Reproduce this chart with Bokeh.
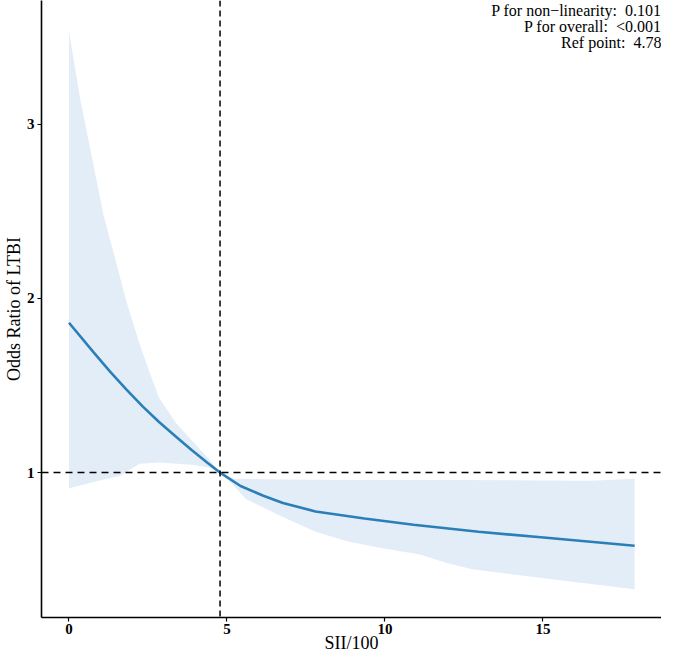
from bokeh.plotting import figure
from bokeh.models import Range1d, FixedTicker, Span
from bokeh.core.properties import value
from bokeh.embed import file_html
from bokeh.resources import INLINE

# ---- data ----
curve_x = [0, 0.78, 1.30, 1.82, 2.33, 2.85, 3.36, 3.88, 4.4, 4.78, 5.43, 6.15, 6.77,
           7.8, 9.35, 10.9, 12.96, 15.02, 17.9]
curve_or = [1.86, 1.69, 1.58, 1.476, 1.38, 1.29, 1.21, 1.13, 1.054, 1.0, 0.923, 0.867, 0.825,
            0.777, 0.736, 0.70, 0.66, 0.627, 0.58]

upper_x = [0, 0.37, 0.78, 1.09, 1.5, 1.82, 2.23, 2.54, 2.85, 3.36, 3.88, 4.4, 4.78,
           5.22, 6.77, 9.0, 12.0, 15.0, 16.5, 17.9]
upper_y = [3.53, 3.13, 2.76, 2.48, 2.20, 1.98, 1.74, 1.58, 1.43, 1.29, 1.185, 1.084, 1.0,
           0.965, 0.96, 0.958, 0.958, 0.955, 0.953, 0.965]

lower_x = [0, 1.09, 1.61, 2.23, 2.85, 3.88, 4.4, 4.78, 4.88, 5.6, 6.77, 7.8, 8.83, 9.87,
           11.1, 11.93, 12.76, 14.0, 16.06, 17.9]
lower_y = [0.91, 0.96, 0.98, 1.05, 1.058, 1.045, 1.03, 1.0, 0.99, 0.848, 0.745, 0.66, 0.605,
           0.567, 0.53, 0.483, 0.445, 0.417, 0.37, 0.33]

ref_point = 4.78
ref_or = 1.0
x_ticks = [0, 5, 10, 15]
y_ticks = [1, 2, 3]
stat_names = ["P for non\u2212linearity:", "P for overall:", "Ref point:"]
stat_values = ["0.101", "<0.001", "4.78"]

SERIF = "Liberation Serif"
X_MAX = 18.75
Y_MIN, Y_MAX = 0.168, 3.71

p = figure(width=661, height=655, output_backend="svg", toolbar_location=None,
           x_range=Range1d(-0.87, X_MAX), y_range=Range1d(Y_MIN, Y_MAX),
           min_border_left=28, min_border_right=0, min_border_top=0, min_border_bottom=30)
p.grid.visible = False
p.outline_line_color = None
p.background_fill_color = "white"

# confidence band
poly_x = upper_x + lower_x[::-1]
poly_y = upper_y + lower_y[::-1]
p.patch(poly_x, poly_y, fill_color="#E3EDF8", line_color=None)

# reference lines
p.add_layout(Span(location=ref_or, dimension="width", line_color="black",
                  line_dash="7 5", line_width=1.5))
p.add_layout(Span(location=ref_point, dimension="height", line_color="black",
                  line_dash="6 4", line_width=1.5))

# OR curve
p.line(curve_x, curve_or, line_color="#2B7FB8", line_width=2.6)

# annotation text
lines = [f"{n}\u00a0\u00a0{v}" for n, v in zip(stat_names, stat_values)]
p.text(x=[X_MAX] * 3, y=[Y_MAX] * 3, text=lines, x_offset=[0] * 3,
       y_offset=[1, 17, 33], text_align="right", text_baseline="top",
       text_font=value(SERIF), text_font_size="16px", text_color="black")

for ax in (p.xaxis, p.yaxis):
    ax.axis_line_width = 1.6
    ax.axis_line_color = "black"
    ax.major_tick_line_color = "black"
    ax.major_tick_line_width = 1.2
    ax.major_tick_out = 4
    ax.major_tick_in = 0
    ax.minor_tick_line_color = None
    ax.major_label_text_font = SERIF
    ax.major_label_text_font_style = "bold"
    ax.major_label_text_font_size = "15px"
    ax.major_label_text_color = "black"
    ax.axis_label_text_font = SERIF
    ax.axis_label_text_font_style = "normal"
    ax.axis_label_text_font_size = "18px"
    ax.axis_label_text_color = "black"

p.xaxis.ticker = FixedTicker(ticks=x_ticks)
p.yaxis.ticker = FixedTicker(ticks=y_ticks)
p.xaxis.axis_label = "SII/100"
p.yaxis.axis_label = "Odds Ratio of LTBI"
p.xaxis.major_label_standoff = 2
p.yaxis.major_label_standoff = 3
p.xaxis.axis_label_standoff = -4
p.yaxis.axis_label_standoff = 0

open("out.html", "w").write(file_html(p, INLINE))
